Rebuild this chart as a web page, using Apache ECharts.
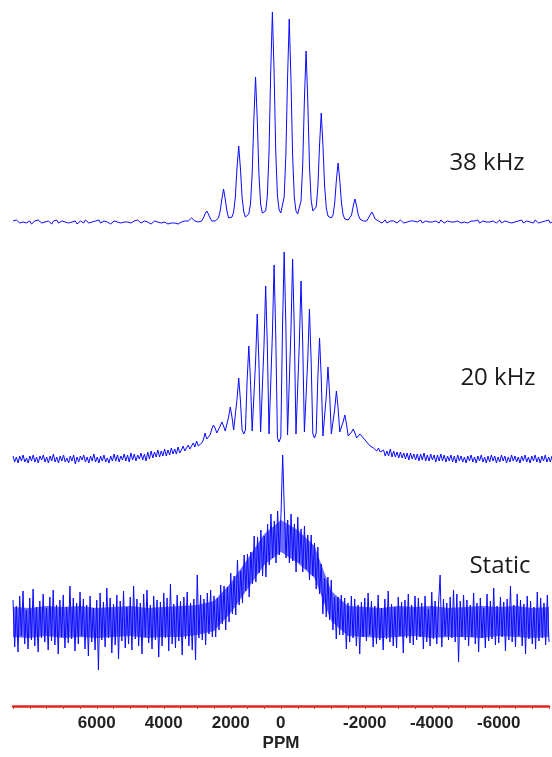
<!DOCTYPE html>
<html>
<head>
<meta charset="utf-8">
<script src="https://cdn.jsdelivr.net/npm/echarts@6/dist/echarts.min.js"></script>
<style>
  html, body { margin: 0; padding: 0; background: #fff; }
  #chart { width: 552px; height: 757px; }
</style>
</head>
<body>
<div id="chart"></div>
<script>
// sampling grid of the spectra, ppm (8500 .. -7500, step 50)
const ppmStart = 8500;
const ppmStep = 50;

// tick labels shown on the ppm axis
const tickLabels = [6000, 4000, 2000, 0, -2000, -4000, -6000];

// 38 kHz MAS spectrum, intensity (a.u.)
const k38Left = [1,-1,2,0,-1,1,0,2,-1,0,
  1,-2,0,1,-1,2,0,-1,1,0,
  -1,1,0,-2,1,0,2,-1,0,1,
  -1,0,2,-1,1,0,-1,1,-2,0,
  1,0,-1,2,0,-1,1,0,-1,1,
  0,2,-1,0,1,-1,0,1,-2,0,
  1,-1,0,2,-1,1,0,-1,0,1,
  -1,0,1,-1,2,0,-1,0,1,-1,
  0,1,-2,0,1,-1,0,1,-1,-2,
  0,-1,-2,0,-1,-3,-1,0,-2,-1,
  0,-1,1,0];
const k38Peaks = [1,3,4,3,1,0,0,1,1,4,
  8,11,8,4,1,1,1,2,4,11,
  23,33,23,11,4,3,5,10,25,54,
  76,54,25,10,5,5,8,18,48,103,
  145,103,48,18,9,8,11,26,70,150,
  210,150,70,26,12,9,11,25,67,144,
  203,144,67,25,11,8,10,21,57,122,
  171,122,57,22,11,9,15,35,77,109,
  77,36,14,6,4,4,7,19,42,59,
  42,19,7,3,2,2,3,7,16,23,
  16,7,3,1,1,1,1,3,7,10,
  7,3,1,1];
const k38Right = [1,-1,0,2,-1,0,1,-1,1,0,
  -1,1,2,0,-1,1,0,-2,1,0,
  1,-1,0,1,2,-1,0,1,-1,0,
  2,0,-1,1,0,-1,2,1,-1,0,
  1,-1,0,2,0,-1,1,0,-1,1,
  0,2,-1,0,1,-1,1,0,2,-1,
  0,1,-1,0,2,0,-1,1,0,-1,
  1,2,-1,0,1,-1,0,2,-1,1,
  0,-1,1,0,2,-1,0,1,-1,0,
  1,-1,2,0,-1,1,0,-1,1,0,
  2,-1,0];

// 20 kHz MAS spectrum
const k20Left = [3,-3,2,-4,3,-2,4,-3,1,-4,
  3,-2,4,-3,2,-4,3,-1,4,-3,
  2,-4,3,-2,5,-3,2,-4,3,-2,
  4,-3,1,-4,3,-2,4,-5,2,-3,
  3,-1,4,-3,2,-4,3,-2,5,-3,
  2,-4,3,-2,4,-3,1,-4,3,-2,
  5,-2,4,-3,3,-1,5,-2,4,-3,
  6,-1,5,-2,4,0,6,-1,5,-2,
  7,0,8,1,7,2,9,2,8,3,
  10,3,9,4,11,5,10,5,12,6];
const k20Mid = [9,13,8,11,14,10,13,16,12,18,
  13,14,16,19,26,20,21,24,30,34,
  31,26,27,33,37,33,28,28,42,52,
  42,29,30,60,81,59,29,25,29,79,
  113,78,28,28,97,145,97,27,26,113,
  173,113,25,24,125,194,124,21,17,22,
  132,207,133,24,23,128,200,129,25,24,
  116,178,116,27,26,100,150,99,25,21,
  26,82,121,81,23,22,63,92,64,25,
  24,50,68,51,27,27,37,44,35,23,
  22,27,30,26,21,22,25,27,21,19,
  17,19,13,15,11,13,8,11,7,9];
const k20Right = [9,3,8,3,10,2,8,2,7,1,
  7,1,6,0,6,-1,6,0,5,-1,
  5,-2,5,-1,6,-2,4,-2,5,-1,
  4,-3,4,-2,5,-2,4,-3,3,-2,
  4,-3,3,-4,4,-2,3,-3,2,-4,
  3,-2,4,-3,2,-4,3,-2,4,-3,
  2,-4,3,-3,4,-2,3,-4,2,-3,
  4,-2,3,-4,2,-3,4,-2,3,-3,
  2,-4,3,-2,4,-3,2,-4,3,-2,
  4,-3,2,-4,3,-2,4,-3,2,-3,
  3];

// static spectrum
const stLeft = [22,-25,16,-30,26,-14,31,-22,12,-27,
  24,-18,33,-24,15,-30,21,-16,28,-20,
  14,-28,25,-19,32,-23,17,-32,22,-15,
  27,-26,15,-21,36,-17,24,-29,19,-22,
  30,-14,23,-27,17,-34,26,-20,14,-28,
  22,-48,29,-18,20,-25,34,-16,24,-31,
  18,-23,27,-37,21,-19,31,-26,15,-22,
  25,-28,36,-17,23,-24,19,-32,28,-15,
  32,-21,17,-27,26,-18,22,-35,20,-24,
  29,-16,24,-29,38,-22,18,-26,27,-19,
  21,-33,25,-17,30,-24,19,-28,23,-38,
  47,-16,27,-18,23,-23,29,-12,32,-15];
const stHump = [26,-15,24,-8,37,-2,36,-8,35,0,
  49,8,46,7,62,17,51,19,67,31,
  68,25,70,38,86,40,85,49,92,46,
  86,45,98,57,108,64,101,59,111,67,
  108,167,111,64,102,59,108,61,98,50,
  105,59,93,50,96,53,87,42,87,46,
  79,33,75,28,58,8,44,5,45,2,
  42,-8,25,-17,25,-13,27,-13,24,-27,
  19,-20,26,-16,23,-24,17,-32,20,-15];
const stRight = [24,-19,29,-13,21,-25,16,-22,27,-18,
  14,-28,23,-17,31,-20,18,-24,15,-26,
  25,-14,20,-31,22,-16,28,-21,17,-23,
  26,-18,24,-15,19,-27,26,-20,13,-24,
  30,-17,21,-22,16,47,-25,23,-14,19,
  -18,25,-16,32,-20,28,-40,21,-15,27,
  -18,22,-24,17,-15,29,-22,19,-30,24,
  -16,14,-26,28,-19,21,-17,34,-23,16,
  -21,25,-15,20,-29,23,-18,36,-20,17,
  -25,28,-14,22,-24,18,-32,26,-17,21,
  -22,15,-27,30,-19,24,-16,19,-23,27,
  -20];

// dense core of the static noise band, every 500 ppm (8500 .. -7500)
const coreStep = 500;
const stCoreLow = [-15,-16,-14,-16,-15,-16,-15,-14,-16,-15,
  -15,-13,-9,9,33,57,70,59,44,1,
  -14,-15,-16,-15,-14,-16,-15,-15,-16,-14,
  -15,-16,-15];
const stCoreHigh = [15,14,16,15,16,14,15,16,14,15,
  16,17,21,39,63,88,102,92,76,31,
  16,15,14,16,15,16,14,15,16,15,
  16,14,15];

const trace38 = k38Left.concat(k38Peaks, k38Right);
const trace20 = k20Left.concat(k20Mid, k20Right);
const traceStatic = stLeft.concat(stHump, stRight);

function toPoints(vals, step) {
  return vals.map(function (v, i) { return [ppmStart - i * step, v]; });
}

const chart = echarts.init(document.getElementById('chart'), null, { renderer: 'canvas' });

const blue = '#0a0aff';
const gridBox = { left: 13, width: 541.3 };
const labelFont = { fontFamily: 'Liberation Sans', fontSize: 17, fontWeight: 'bold', color: '#222' };

function xAx(idx, show) {
  return {
    gridIndex: idx, type: 'value', inverse: true,
    min: -7500, max: 8500, interval: 500,
    show: show,
    splitLine: { show: false },
    axisLine: { show: true, onZero: false, lineStyle: { color: '#e3231c', width: 2.5 } },
    axisTick: { show: true, length: 3, lineStyle: { color: '#c84040', width: 1 } },
    axisLabel: Object.assign({
      margin: 9,
      formatter: function (v) {
        if (tickLabels.indexOf(v) < 0) return '';
        return v === 0 ? '{z|0}' : String(v);
      },
      rich: { z: Object.assign({ padding: [0, 34, 0, 0] }, labelFont) }
    }, labelFont),
    name: show ? 'PPM' : '',
    nameLocation: 'middle',
    nameGap: 29,
    nameTextStyle: labelFont
  };
}

function lineSeries(idx, vals) {
  return {
    type: 'line', xAxisIndex: idx, yAxisIndex: idx,
    data: toPoints(vals, ppmStep), showSymbol: false, symbol: 'none',
    lineStyle: { color: blue, width: 1 },
    silent: true, z: 3
  };
}

// filled core band of the static trace, placed through the axes
function coreBand(params, api) {
  const pts = [];
  stCoreHigh.forEach(function (v, i) { pts.push(api.coord([ppmStart - i * coreStep, v])); });
  for (let i = stCoreLow.length - 1; i >= 0; i--) {
    pts.push(api.coord([ppmStart - i * coreStep, stCoreLow[i]]));
  }
  return { type: 'polygon', shape: { points: pts }, style: { fill: blue, opacity: 0.6 } };
}

const option = {
  animation: false,
  grid: [
    Object.assign({ top: 7, height: 225 }, gridBox),
    Object.assign({ top: 244, height: 225 }, gridBox),
    Object.assign({ top: 447, height: 259 }, gridBox)
  ],
  xAxis: [xAx(0, false), xAx(1, false), xAx(2, true)],
  yAxis: [
    { gridIndex: 0, type: 'value', min: -10, max: 215, show: false },
    { gridIndex: 1, type: 'value', min: -10, max: 215, show: false },
    { gridIndex: 2, type: 'value', min: -84, max: 175, show: false }
  ],
  series: [
    {
      type: 'custom', coordinateSystem: 'cartesian2d', xAxisIndex: 2, yAxisIndex: 2,
      data: [[0, 0]], renderItem: coreBand, silent: true, z: 1
    },
    lineSeries(0, trace38), lineSeries(1, trace20), lineSeries(2, traceStatic)
  ],
  graphic: [
    { type: 'text', x: 487, y: 163, style: { text: '38 kHz', font: '24px "Open Sans"', fill: '#1a1a1a', align: 'center', verticalAlign: 'middle' } },
    { type: 'text', x: 498, y: 378, style: { text: '20 kHz', font: '24px "Open Sans"', fill: '#1a1a1a', align: 'center', verticalAlign: 'middle' } },
    { type: 'text', x: 500, y: 566, style: { text: 'Static', font: '24px "Open Sans"', fill: '#1a1a1a', align: 'center', verticalAlign: 'middle' } }
  ]
};

chart.setOption(option);
</script>
</body>
</html>
